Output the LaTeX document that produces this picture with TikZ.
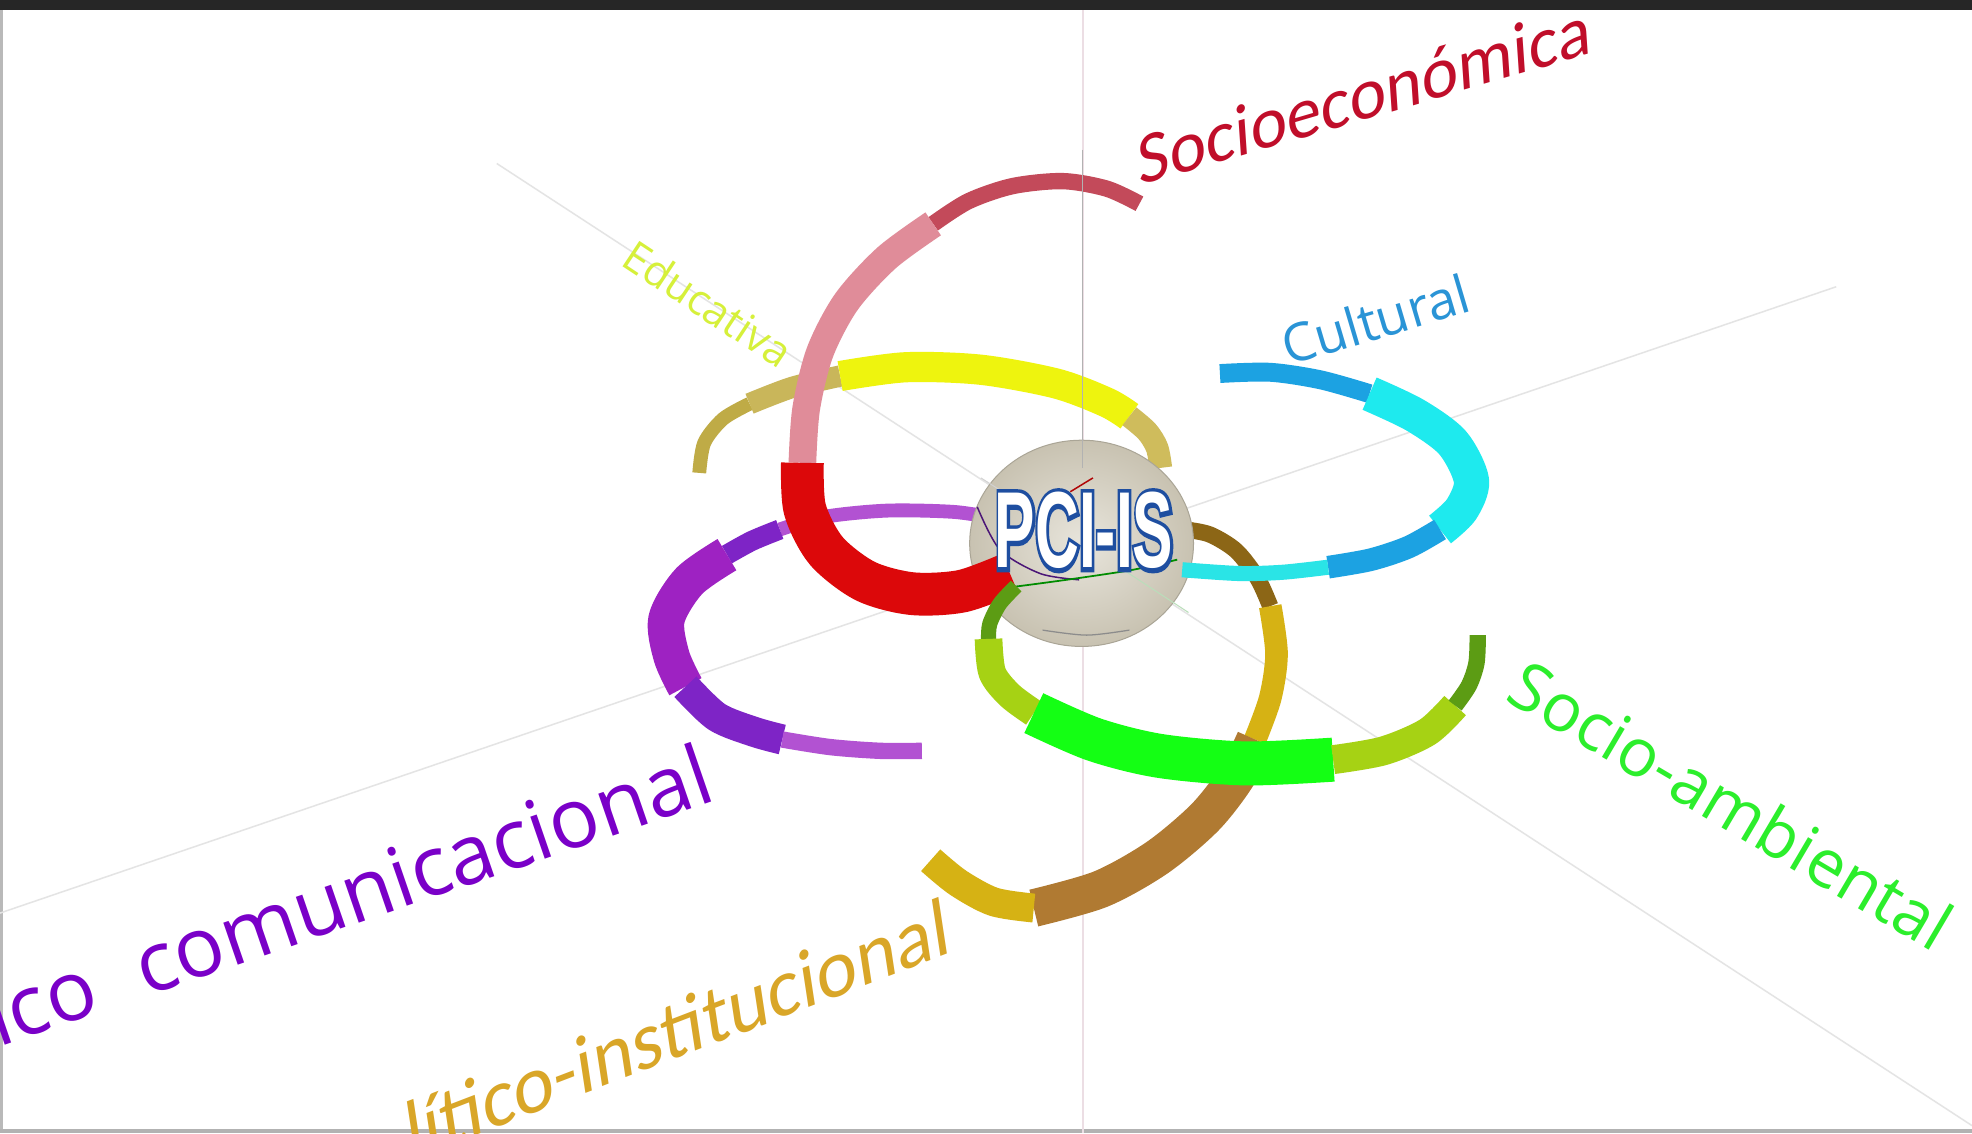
\documentclass[tikz,border=0pt]{standalone}
\usepackage{fontspec}
\setmainfont{Open Sans}
\newfontfamily\itlabel{Carlito}[FakeSlant=0.22]
\newfontfamily\pcifont{Liberation Sans}[UprightFont=* Bold]
\newfontfamily\pcistroke{Liberation Sans}[UprightFont=* Bold, FakeBold=8]
\usepackage{graphicx}

\definecolor{topbar}{RGB}{38,38,38}
\definecolor{axisgray}{RGB}{228,228,228}
\definecolor{axispink}{RGB}{236,222,228}
\definecolor{roseDark}{RGB}{195,74,90}
\definecolor{rosePink}{RGB}{224,140,153}
\definecolor{ringRed}{RGB}{220,8,10}
\definecolor{oliveThin}{RGB}{191,171,70}
\definecolor{oliveMid}{RGB}{201,182,90}
\definecolor{ringYellow}{RGB}{238,244,14}
\definecolor{oliveRight}{RGB}{207,188,92}
\definecolor{blueDeep}{RGB}{28,162,226}
\definecolor{cyanWide}{RGB}{30,234,238}
\definecolor{cyanThin}{RGB}{42,228,230}
\definecolor{greenDark}{RGB}{92,156,20}
\definecolor{greenLime}{RGB}{166,210,20}
\definecolor{greenBright}{RGB}{20,255,20}
\definecolor{brownDark}{RGB}{140,102,22}
\definecolor{ringGold}{RGB}{214,178,20}
\definecolor{brownMid}{RGB}{176,122,50}
\definecolor{purpLight}{RGB}{178,82,210}
\definecolor{purpDark}{RGB}{126,36,198}
\definecolor{purpMag}{RGB}{158,34,194}
\definecolor{sphIn}{RGB}{232,229,220}
\definecolor{sphOut}{RGB}{200,194,177}
\definecolor{pciblue}{RGB}{30,78,160}
\definecolor{socioRed}{RGB}{192,14,42}
\definecolor{eduLime}{RGB}{214,240,58}
\definecolor{cultBlue}{RGB}{42,148,214}
\definecolor{ambGreen}{RGB}{44,238,44}
\definecolor{instGold}{RGB}{217,166,40}
\definecolor{comPurple}{RGB}{122,0,200}

\tikzset{every picture/.style={line width=0.75pt}}
\tikzset{seg/.style={line cap=butt, line join=round},
  axisline/.style={draw=axisgray, line width=0.6pt},
  dimlabel/.style={inner sep=0.75pt, anchor=base}}

\begin{document}
\begin{tikzpicture}[x=0.5pt,y=0.5pt,yscale=-1,xscale=1]
\clip (0,0) rectangle (1568,901);
\fill[white] (0,0) rectangle (1568,901);

%Frame
\fill[topbar] (0,0) rectangle (1568,8);
\fill[gray!55] (0,8) rectangle (2,901);
\fill[gray!60] (0,898) rectangle (1568,901);

%Straight Lines (axes)
\draw[axisline] (395,130) -- (1568,895);
\draw[axisline] (0,726) -- (1460,228);
\draw[axisline, draw=axispink] (861,8) -- (861,901);

%Curve Lines: purple ring
\draw[seg, line width=5.5pt, draw=purpLight] plot[smooth] coordinates {(792,412) (758,407) (705,406) (655,411) (620,421)};
\draw[seg, line width=8pt, draw=purpDark] plot[smooth] coordinates {(620,421) (598,430) (578,441)};
\draw[seg, line width=14.5pt, draw=purpMag] plot[smooth] coordinates {(578,441) (548,462) (530,492) (534,522) (545,546)};
\draw[seg, line width=12pt, draw=purpDark] plot[smooth] coordinates {(545,546) (570,570) (600,582) (622,588)};
\draw[seg, line width=6.5pt, draw=purpLight] plot[smooth] coordinates {(622,588) (660,594) (700,597) (733,597)};

%Curve Lines: gold ring
\draw[seg, line width=6.5pt, draw=brownDark] plot[smooth] coordinates {(942,421) (962,425) (983,438) (1000,460) (1010,482)};
\draw[seg, line width=9pt, draw=ringGold] plot[smooth] coordinates {(1010,482) (1015,520) (1010,555) (998,588)};
\draw[seg, line width=15pt, draw=brownMid] plot[smooth] coordinates {(998,588) (983,618) (958,650) (920,682) (875,707) (822,722)};
\draw[seg, line width=11.5pt, draw=ringGold] plot[smooth] coordinates {(822,722) (790,717) (762,702) (740,684)};

%Curve Lines: yellow ring
\draw[seg, line width=5.5pt, draw=oliveThin] plot[smooth] coordinates {(556,376) (560,352) (575,333) (596,321)};
\draw[seg, line width=8.5pt, draw=oliveMid] plot[smooth] coordinates {(596,321) (630,308) (668,299)};
\draw[seg, line width=12pt, draw=ringYellow] plot[smooth] coordinates {(668,299) (720,292) (780,294) (840,305) (880,320) (898,331)};
\draw[seg, line width=9pt, draw=oliveRight] plot[smooth] coordinates {(898,331) (912,343) (920,356) (923,372)};

%Shape: Ellipse (sphere)
\shade[inner color=sphIn, outer color=sphOut] (860,432) ellipse [x radius=89, y radius=82];
\draw[sphOut!85!black, line width=0.4pt] (860,432) ellipse [x radius=89, y radius=82];
\draw[axisline, draw=gray!35, line width=0.4pt] (780,380) -- (830,412);
\draw[axisline, draw=green!35!gray!40, line width=0.4pt] (890,451) -- (945,487);
\draw[purpDark!60!black, line width=0.6pt] plot[smooth] coordinates {(777,403) (795,437) (827,456) (858,461)};
\draw[green!55!black, line width=0.7pt] plot[smooth] coordinates {(803,467) (848,461) (901,453) (936,445)};
\draw[ringRed!80!black, line width=0.6pt] (869,380) -- (851,391);
\draw[black!45, line width=0.5pt] plot[smooth] coordinates {(829,501) (864,505) (898,501)};

%Curve Lines: red ring
\draw[seg, line width=6.5pt, draw=roseDark] plot[smooth] coordinates {(906,162) (880,150) (845,144) (805,148) (770,160) (742,178)};
\draw[seg, line width=11pt, draw=rosePink] plot[smooth] coordinates {(742,178) (705,205) (673,240) (652,280) (641,325) (638,368)};
\draw[seg, line width=17pt, draw=ringRed] plot[smooth] coordinates {(638,368) (640,405) (657,438) (688,462) (725,472) (765,470) (803,456)};

%Curve Lines: cyan ring
\draw[seg, line width=7.5pt, draw=blueDeep] plot[smooth] coordinates {(970,297) (1010,296) (1050,302) (1089,313)};
\draw[seg, line width=14pt, draw=cyanWide] plot[smooth] coordinates {(1089,313) (1125,330) (1155,352) (1170,382) (1162,405) (1145,421)};
\draw[seg, line width=9pt, draw=blueDeep] plot[smooth] coordinates {(1145,421) (1120,435) (1090,445) (1056,451)};
\draw[seg, line width=6pt, draw=cyanThin] plot[smooth] coordinates {(1056,451) (1020,455) (985,456) (940,453)};

%Curve Lines: green ring
\draw[seg, line width=6pt, draw=greenDark] plot[smooth] coordinates {(808,466) (795,480) (787,496) (786,508)};
\draw[seg, line width=11pt, draw=greenLime] plot[smooth] coordinates {(786,508) (789,535) (803,553) (822,567)};
\draw[seg, line width=17.5pt, draw=greenBright] plot[smooth] coordinates {(822,567) (870,588) (922,601) (990,607) (1060,604)};
\draw[seg, line width=11.5pt, draw=greenLime] plot[smooth] coordinates {(1060,604) (1100,597) (1135,582) (1157,561)};
\draw[seg, line width=6.5pt, draw=greenDark] plot[smooth] coordinates {(1157,561) (1168,545) (1174,527) (1175,505)};

%Straight Lines
\draw[gray!60, line width=0.4pt] (861,119) -- (861,372);

% Text Node
\node[inner sep=0pt] (pci) at (862,422) {\scalebox{0.56}[1]{\fontsize{43pt}{43pt}\selectfont\rlap{\pcistroke\textcolor{pciblue}{PCI-IS}}\pcifont\textcolor{white}{PCI-IS}}};
% Text Node
\node[dimlabel, rotate=16.3, text=socioRed, font=\fontsize{28.5pt}{32pt}\itlabel] (socioeco) at (1086,95) {Socioeconómica};
% Text Node
\node[dimlabel, rotate=-33.5, text=eduLime, font=\fontsize{17pt}{20pt}\selectfont] (educ) at (556,252) {Educativa};
% Text Node
\node[dimlabel, rotate=16.5, text=cultBlue, font=\fontsize{21pt}{24pt}\selectfont] (cult) at (1098,269) {Cultural};
% Text Node
\node[dimlabel, anchor=center, rotate=-30.5, text=ambGreen, font=\fontsize{26.5pt}{30pt}\selectfont] (ambiental) at (1377,640) {Socio-ambiental};
% Text Node
\node[dimlabel, rotate=21, text=instGold, font=\fontsize{32pt}{36pt}\itlabel] (instit) at (542,840) {lítico-institucional};
% Text Node
\node[dimlabel, anchor=base east, rotate=19, text=comPurple, font=\fontsize{33pt}{36pt}\selectfont] (comunic) at (573,635) {ico\hspace{0.3em} comunicacional};

\end{tikzpicture}
\end{document}
